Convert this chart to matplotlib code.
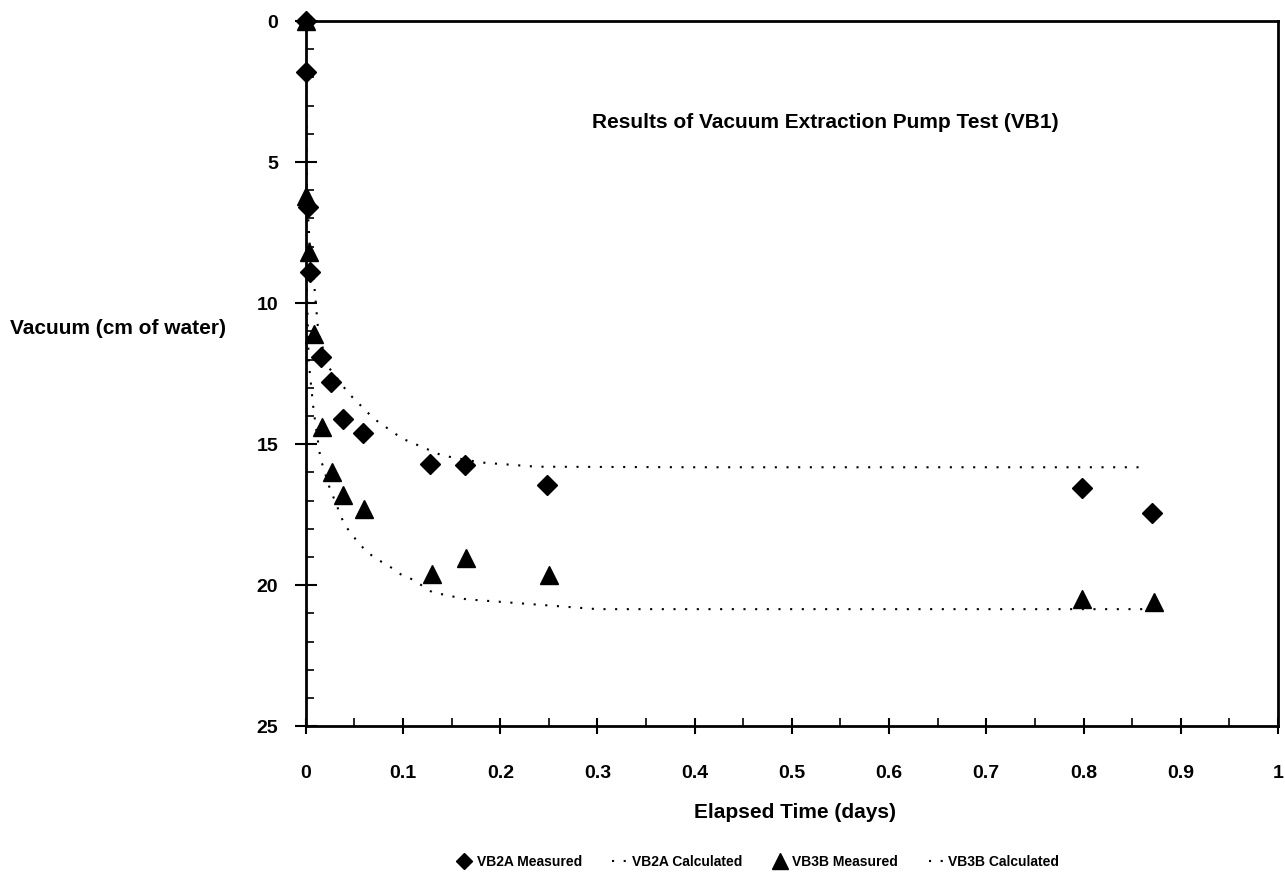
import matplotlib
matplotlib.use("Agg")
import matplotlib.pyplot as plt
from matplotlib.ticker import MultipleLocator, FixedLocator

plt.rcParams['font.family'] = ['Liberation Sans', 'DejaVu Sans']
plt.rcParams['font.weight'] = 'bold'

# Measured data
vb2a_t = [0.0, 0.0, 0.002, 0.004, 0.016, 0.026, 0.038, 0.059, 0.128, 0.164, 0.248, 0.798, 0.870]
vb2a_v = [0.0, 1.8, 6.6, 8.9, 11.9, 12.8, 14.1, 14.6, 15.7, 15.75, 16.45, 16.55, 17.45]
vb3b_t = [0.0, 0.0, 0.003, 0.008, 0.017, 0.027, 0.038, 0.060, 0.130, 0.165, 0.250, 0.798, 0.872]
vb3b_v = [0.0, 6.2, 8.2, 11.1, 14.4, 16.0, 16.8, 17.3, 19.6, 19.05, 19.65, 20.5, 20.6]

# Calculated curves
vb2a_calc_t = [0.0, 0.0005, 0.001, 0.004, 0.008, 0.013, 0.024, 0.044, 0.070, 0.099, 0.140, 0.180, 0.237, 0.400, 0.600, 0.864]
vb2a_calc_v = [0.0, 3.5, 6.0, 8.0, 9.1, 11.1, 12.3, 13.2, 14.1, 14.8, 15.4, 15.65, 15.8, 15.82, 15.82, 15.82]
vb3b_calc_t = [0.0, 0.0005, 0.001, 0.003, 0.008, 0.015, 0.024, 0.039, 0.047, 0.062, 0.072, 0.089, 0.099, 0.110, 0.130, 0.165, 0.300, 0.500, 0.700, 0.870]
vb3b_calc_v = [0.0, 5.0, 9.5, 12.1, 13.8, 15.5, 16.5, 17.8, 18.2, 18.8, 19.05, 19.4, 19.65, 19.8, 20.25, 20.5, 20.85, 20.85, 20.85, 20.85]

x_ticks = [0, 0.1, 0.2, 0.3, 0.4, 0.5, 0.6, 0.7, 0.8, 0.9, 1]
x_tick_labels = ['0', '0.1', '0.2', '0.3', '0.4', '0.5', '0.6', '0.7', '0.8', '0.9', '1']
y_ticks = [0, 5, 10, 15, 20, 25]

fig = plt.figure(figsize=(12.85, 8.76), dpi=100)
ax = fig.add_axes([0.238, 0.171, 0.7565, 0.805])

dot_style = (0, (1, 4.6))
ax.plot(vb2a_calc_t, vb2a_calc_v, linestyle=dot_style, color='black', lw=1.5,
        label='VB2A Calculated', zorder=2)
ax.plot(vb3b_calc_t, vb3b_calc_v, linestyle=dot_style, color='black', lw=1.5,
        label='VB3B Calculated', zorder=2)
ax.plot(vb2a_t, vb2a_v, linestyle='none', marker='D', color='black', markersize=10,
        label='VB2A Measured', zorder=3, clip_on=False)
ax.plot(vb3b_t, vb3b_v, linestyle='none', marker='^', color='black', markersize=13,
        label='VB3B Measured', zorder=3, clip_on=False)

ax.set_xlim(0, 1)
ax.set_ylim(25, 0)

ax.xaxis.set_major_locator(FixedLocator(x_ticks))
ax.set_xticklabels(x_tick_labels)
ax.xaxis.set_minor_locator(MultipleLocator(0.05))
ax.yaxis.set_major_locator(FixedLocator(y_ticks))
ax.yaxis.set_minor_locator(MultipleLocator(1))

for s in ax.spines.values():
    s.set_linewidth(2.0)

ax.tick_params(axis='x', which='major', direction='inout', length=12, width=1.5,
               labelsize=14, pad=22)
ax.tick_params(axis='x', which='minor', direction='in', length=6, width=1.2)
ax.tick_params(axis='y', which='major', direction='inout', length=16, width=1.5,
               labelsize=14, pad=12)
ax.tick_params(axis='y', which='minor', direction='in', length=6, width=1.2)
for lab in ax.get_xticklabels() + ax.get_yticklabels():
    lab.set_fontweight('bold')

fig.text(118 / 1285, 1 - 328 / 876, 'Vacuum (cm of water)', ha='center', va='center',
         fontsize=15, fontweight='bold')
fig.text(795 / 1285, 1 - 813 / 876, 'Elapsed Time (days)', ha='center', va='center',
         fontsize=15, fontweight='bold')
fig.text(825 / 1285, 1 - 122 / 876, 'Results of Vacuum Extraction Pump Test (VB1)',
         ha='center', va='center', fontsize=15, fontweight='bold')

handles, labels = ax.get_legend_handles_labels()
order = [2, 0, 3, 1]
leg = fig.legend([handles[i] for i in order], [labels[i] for i in order],
                 loc='center', bbox_to_anchor=(0.59, 1 - 862 / 876), ncol=4,
                 frameon=False, prop={'size': 10, 'weight': 'bold'},
                 handlelength=1.0, handletextpad=0.4, columnspacing=2.2,
                 markerscale=0.85)

fig.savefig('out.png', dpi=100)
